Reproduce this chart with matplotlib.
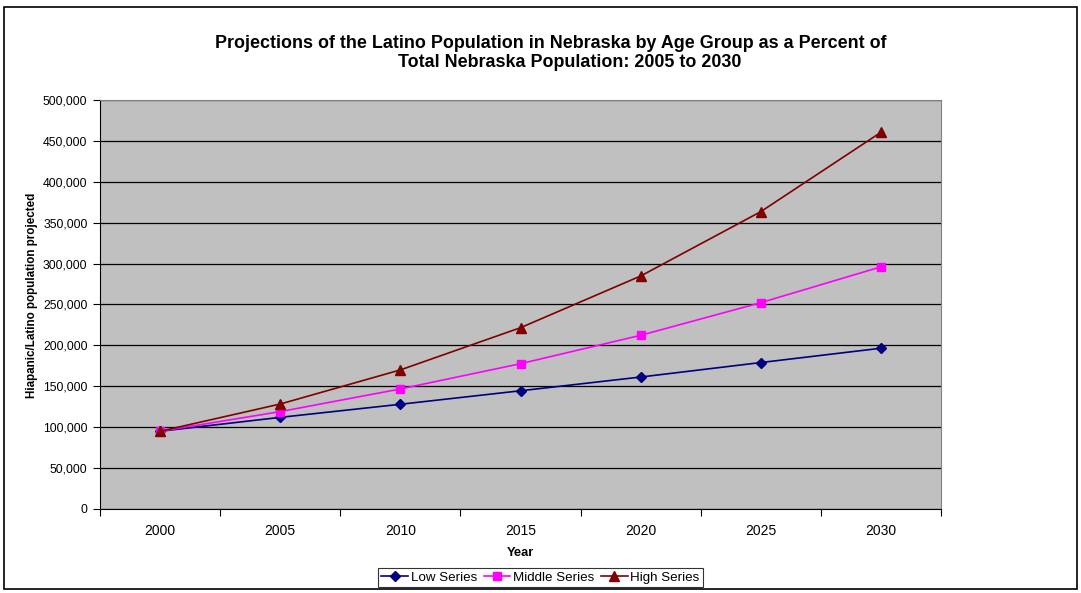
import matplotlib
matplotlib.use("Agg")
import matplotlib.pyplot as plt
from matplotlib.patches import Rectangle
from matplotlib.ticker import FuncFormatter, FixedLocator, NullFormatter

plt.rcParams['font.family'] = ['Liberation Sans', 'DejaVu Sans']

years = ["2000", "2005", "2010", "2015", "2020", "2025", "2030"]
low_series = [95000, 112000, 128000, 144500, 161300, 179000, 196500]
middle_series = [95000, 119000, 146700, 177600, 212300, 252200, 296000]
high_series = [95000, 128300, 170000, 221600, 284800, 363500, 460500]

fig = plt.figure(figsize=(10.81, 5.93), dpi=100)
fig.patches.append(Rectangle((0.004, 0.006), 0.992, 0.982, transform=fig.transFigure,
                             fill=False, edgecolor='black', linewidth=1.2))

ax = fig.add_axes([0.0925, 0.1417, 0.778, 0.6897])
ax.set_facecolor('#C0C0C0')
x = list(range(len(years)))

ax.plot(x, low_series, color='#000080', marker='D', markersize=5, linewidth=1.2, label='Low Series', zorder=3)
ax.plot(x, middle_series, color='#FF00FF', marker='s', markersize=6, linewidth=1.2, label='Middle Series', zorder=3)
ax.plot(x, high_series, color='#800000', marker='^', markersize=7, linewidth=1.2, label='High Series', zorder=4)

ax.set_xlim(-0.5, len(years) - 0.5)
ax.set_ylim(0, 500000)
ax.set_yticks(range(0, 500001, 50000))
ax.yaxis.set_major_formatter(FuncFormatter(lambda v, p: f"{int(v):,}"))
ax.grid(axis='y', color='black', linewidth=0.9)
ax.set_axisbelow(True)

ax.xaxis.set_major_locator(FixedLocator([i - 0.5 for i in range(len(years) + 1)]))
ax.xaxis.set_major_formatter(NullFormatter())
ax.xaxis.set_minor_locator(FixedLocator(x))
ax.set_xticklabels(years, minor=True)
ax.tick_params(axis='x', which='minor', length=0, labelsize=10, pad=11)
ax.tick_params(axis='x', which='major', length=5, direction='out')
ax.tick_params(axis='y', length=5, direction='out', labelsize=8.8, pad=4)

for s in ['top', 'right']:
    ax.spines[s].set_color('#808080')
for s in ['left', 'bottom']:
    ax.spines[s].set_color('black')

ax.set_xlabel('Year', fontsize=9.3, fontweight='bold', labelpad=6)
ax.set_ylabel('Hiapanic/Latino population projected', fontsize=8.4, fontweight='bold')
ax.yaxis.set_label_coords(-0.074, 0.523)

fig.text(0.5093, 0.926, 'Projections of the Latino Population in Nebraska by Age Group as a Percent of',
         ha='center', va='center', fontsize=12.9, fontweight='bold')
fig.text(0.5273, 0.895, 'Total Nebraska Population: 2005 to 2030',
         ha='center', va='center', fontsize=12.9, fontweight='bold')

leg = fig.legend(loc='center', bbox_to_anchor=(0.5, 0.0253), ncol=3, fontsize=9.6,
                 frameon=True, fancybox=False, edgecolor='black', handlelength=2.0,
                 handletextpad=0.2, columnspacing=0.5, borderpad=0.25)
leg.get_frame().set_linewidth(0.8)

fig.savefig('out.png', dpi=100)
